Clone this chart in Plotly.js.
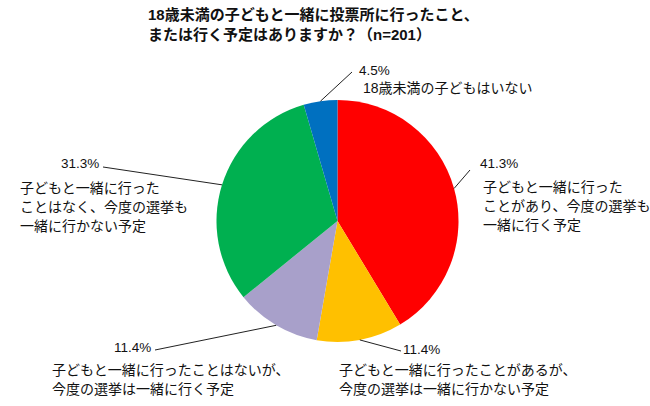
<!DOCTYPE html>
<html>
<head>
<meta charset="utf-8">
<script src="https://cdn.plot.ly/plotly-3.0.1.min.js"></script>
<style>
  body { margin: 0; background: #fff; }
  #chart { width: 650px; height: 406px; }
</style>
</head>
<body>
<div id="chart"></div>
<script>
const W = 650;
const H = 406;

// slices, clockwise from 12 o'clock
const labels = [
  '子どもと一緒に行ったことがあり、今度の選挙も一緒に行く予定',
  '子どもと一緒に行ったことがあるが、今度の選挙は一緒に行かない予定',
  '子どもと一緒に行ったことはないが、今度の選挙は一緒に行く予定',
  '子どもと一緒に行ったことはなく、今度の選挙も一緒に行かない予定',
  '18歳未満の子どもはいない',
];
const values = [41.3, 11.4, 11.4, 31.3, 4.5];
const pctText = ['41.3%', '11.4%', '11.4%', '31.3%', '4.5%'];
const labelLines = [
  ['子どもと一緒に行った', 'ことがあり、今度の選挙も', '一緒に行く予定'],
  ['子どもと一緒に行ったことがあるが、', '今度の選挙は一緒に行かない予定'],
  ['子どもと一緒に行ったことはないが、', '今度の選挙は一緒に行く予定'],
  ['子どもと一緒に行った', 'ことはなく、今度の選挙も', '一緒に行かない予定'],
  ['18歳未満の子どもはいない'],
];
const colors = ['#FF0000', '#FFC000', '#A8A0CA', '#00B050', '#0070C0'];

// label placement, in pixels
const labelPos = [
  {px: 478, py: 163, pxAnchor: 'left', tx: 481, ty: 187, end: [470, 170]},
  {px: 401, py: 349, pxAnchor: 'left', tx: 337, ty: 370, end: [401, 351]},
  {px: 153, py: 347, pxAnchor: 'right', tx: 50, ty: 370, end: [155, 350]},
  {px: 101, py: 164, pxAnchor: 'right', tx: 18, ty: 188, end: [103, 167]},
  {px: 357, py: 70, pxAnchor: 'left', tx: 361, ty: 88, end: [352, 72]},
];
const lineGap = 19;

const cx = 337.5;
const cy = 221;
const r = 121;

const font = 'Liberation Sans, Arial, Noto Sans CJK JP, sans-serif';
const px = x => x / W;
const py = y => 1 - y / H;

const total = values.reduce((a, b) => a + b, 0);
const annotations = [];
const shapes = [];
let acc = 0;
values.forEach((v, i) => {
  // leader line starts at the slice's mid-angle on the rim
  const mid = (acc + v / 2) / total * 2 * Math.PI;
  acc += v;
  const sx = cx + r * Math.sin(mid);
  const sy = cy - r * Math.cos(mid);
  const p = labelPos[i];
  shapes.push({
    type: 'line', xref: 'paper', yref: 'paper',
    x0: px(sx), y0: py(sy), x1: px(p.end[0]), y1: py(p.end[1]),
    line: {color: '#222', width: 1},
  });
  annotations.push({
    xref: 'paper', yref: 'paper', x: px(p.px), y: py(p.py),
    xanchor: p.pxAnchor, yanchor: 'middle', showarrow: false,
    text: pctText[i], font: {family: font, size: 13.5, color: '#111'},
  });
  labelLines[i].forEach((line, j) => {
    annotations.push({
      xref: 'paper', yref: 'paper', x: px(p.tx), y: py(p.ty + j * lineGap),
      xanchor: 'left', yanchor: 'middle', showarrow: false,
      text: line, font: {family: font, size: 14, color: '#111'},
    });
  });
});

Plotly.newPlot('chart', [{
  type: 'pie',
  labels: labels,
  values: values,
  sort: false,
  direction: 'clockwise',
  rotation: 0,
  textinfo: 'none',
  hoverinfo: 'label+percent',
  marker: {colors: colors, line: {width: 0}},
  domain: {x: [px(cx - r), px(cx + r)], y: [py(cy + r), py(cy - r)]},
}], {
  width: W,
  height: H,
  margin: {l: 0, r: 0, t: 0, b: 0},
  paper_bgcolor: '#fff',
  showlegend: false,
  title: {
    text: '<b>18歳未満の子どもと一緒に投票所に行ったこと、<br>または行く予定はありますか？（n=201）</b>',
    xref: 'container', yref: 'container',
    x: 148 / W, xanchor: 'left',
    y: 1 - 20 / H, yanchor: 'top',
    font: {family: font, size: 15, color: '#111'},
  },
  shapes: shapes,
  annotations: annotations,
}, {displayModeBar: false, staticPlot: true});
</script>
</body>
</html>
